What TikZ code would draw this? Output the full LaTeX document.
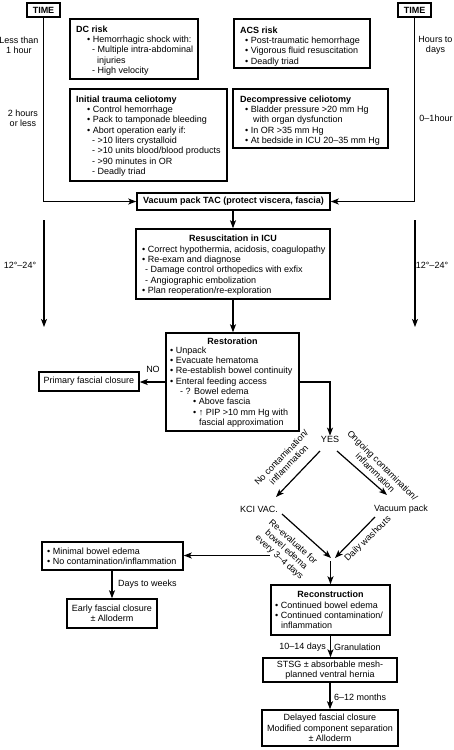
\documentclass[tikz,border=0pt]{standalone}
\usepackage{fontspec}
\setmainfont{Liberation Sans}
\usetikzlibrary{arrows.meta,calc,fit}
\begin{document}
\begin{tikzpicture}[x=1pt,y=-1pt,
  every node/.style={font=\fontsize{9}{10.3}\selectfont, inner sep=0pt},
  box/.style={draw, line width=1.5pt, rectangle, inner sep=0pt},
  txt/.style={anchor=north west, align=left},
  lbl/.style={align=center},
  arr/.style={line width=1.2pt, -{Stealth[length=8pt,width=6pt,inset=2pt]}},
  ln/.style={line width=1.2pt}]
\useasboundingbox (0,0) rectangle (453,750);

% time boxes
\node[box, minimum width=33pt, minimum height=14pt] (timeL) at (43.5,10) {\textbf{TIME}};
\node[box, minimum width=33pt, minimum height=14pt] (timeR) at (414.5,10) {\textbf{TIME}};

\node[lbl] (tl1) at (19,45) {Less than\\1 hour};
\node[lbl] (tl2) at (23,118) {2 hours\\or less};
\node[lbl] (tl3) at (20,265) {12°–24°};
\node[lbl] (tr1) at (435.5,45) {Hours to\\days};
\node[lbl] (tr2) at (436,118) {0–1hour};
\node[lbl] (tr3) at (432,265) {12°–24°};

% DC risk
\node[box, fit={(70,19) (198,79)}] (dc) {};
\node[txt] (dct) at (76,25.5) {\textbf{DC risk}\\
\hspace*{11pt}• Hemorrhagic shock with:\\
\hspace*{16pt}- Multiple intra-abdominal\\
\hspace*{21pt}injuries\\
\hspace*{16pt}- High velocity};

% Initial trauma
\node[box, fit={(70,89) (227,181)}] (itc) {};
\node[txt] (itct) at (76,95.5) {\textbf{Initial trauma celiotomy}\\
\hspace*{11pt}• Control hemorrhage\\
\hspace*{11pt}• Pack to tamponade bleeding\\
\hspace*{11pt}• Abort operation early if:\\
\hspace*{16pt}- >10 liters crystalloid\\
\hspace*{16pt}- >10 units blood/blood products\\
\hspace*{16pt}- >90 minutes in OR\\
\hspace*{16pt}- Deadly triad};

% ACS risk
\node[box, fit={(234,19) (370,68)}] (acs) {};
\node[txt] (acst) at (240,26.5) {\textbf{ACS risk}\\
\hspace*{5pt}• Post-traumatic hemorrhage\\
\hspace*{5pt}• Vigorous fluid resuscitation\\
\hspace*{5pt}• Deadly triad};

% Decompressive
\node[box, fit={(233,89) (388,148)}] (dcel) {};
\node[txt] (dcelt) at (240,95.5) {\textbf{Decompressive celiotomy}\\
\hspace*{5pt}• Bladder pressure >20 mm Hg\\
\hspace*{13pt}with organ dysfunction\\
\hspace*{5pt}• In OR >35 mm Hg\\
\hspace*{5pt}• At bedside in ICU 20–35 mm Hg};

% Vacuum pack TAC
\node[box, minimum width=193pt, minimum height=17pt] (vac) at (233.5,201.5) {\textbf{Vacuum pack TAC (protect viscera, fascia)}};

% Resuscitation
\node[box, fit={(136,229) (330,299)}] (res) {};
\node (rest0) at (233,238) {\textbf{Resuscitation in ICU}};
\node[txt] (rest1) at (142,245.5) {• Correct hypothermia, acidosis, coagulopathy\\
• Re-exam and diagnose\\
\hspace*{3pt}- Damage control orthopedics with exfix\\
\hspace*{3pt}- Angiographic embolization\\
• Plan reoperation/re-exploration};

% Restoration
\node[box, fit={(166,333) (299,431)}] (rest) {};
\node (restt0) at (232.5,341) {\textbf{Restoration}};
\node[txt] (restt1) at (170,346.5) {• Unpack\\
• Evacuate hematoma\\
• Re-establish bowel continuity\\
• Enteral feeding access\\
\hspace*{10pt}- ? Bowel edema\\
\hspace*{23pt}• Above fascia\\
\hspace*{23pt}• ↑ PIP >10 mm Hg with\\
\hspace*{29pt}fascial approximation};

% Primary fascial closure
\node[box, minimum width=100pt, minimum height=19pt] (prim) at (89,381.5) {Primary fascial closure};
\node (no) at (153,369) {NO};

% diamond
\node (yes) at (330,439) {YES};
\node (kci) at (259,509) {KCI VAC.};
\node (vp) at (401,509) {Vacuum pack};
\node[lbl, rotate=46] (lab1) at (285,461) {No contamination/\\inflammation};
\node[lbl, rotate=-45] (lab2) at (379,469) {Ongoing contamination/\\inflammation};
\node[lbl, rotate=-42] (lab3) at (286,550) {Re-evaluate for\\bowel edema\\every 3–4 days};
\node[lbl, rotate=44] (lab4) at (368,539) {Daily washouts};

% Minimal bowel edema
\node[box, fit={(42,542) (183,570)}] (mini) {};
\node[txt] (minit) at (47,547.5) {• Minimal bowel edema\\
• No contamination/inflammation};
\node[anchor=west] (dtw) at (118,584) {Days to weeks};
\node[box, minimum width=90pt, minimum height=29pt, align=center] (early) at (112,613.5) {Early fascial closure\\± Alloderm};

% Reconstruction
\node[box, fit={(271,585) (390,635)}] (recon) {};
\node (recont0) at (330.5,594) {\textbf{Reconstruction}};
\node[txt] (recont1) at (275,601.5) {• Continued bowel edema\\
• Continued contamination/\\
\hspace*{6pt}inflammation};
\node[anchor=east] (d1014) at (326,647) {10–14 days};
\node[anchor=west] (gran) at (334,647) {Granulation};
\node[box, minimum width=134pt, minimum height=24pt, align=center] (stsg) at (330,670) {STSG ± absorbable mesh-\\planned ventral hernia};
\node[anchor=west] (m612) at (334,697) {6–12 months};
\node[box, minimum width=136pt, minimum height=36pt, align=center] (del) at (330,728) {Delayed fascial closure\\Modified component separation\\± Alloderm};

% coordinates
\coordinate (l1) at (44,220);
\coordinate (l2) at (44,327);
\coordinate (r1) at (415,220);
\coordinate (r2) at (415,327);
\coordinate (yesL) at (320,451);
\coordinate (kciT) at (276,497);
\coordinate (yesR) at (337,451);
\coordinate (vpT) at (387,495);
\coordinate (kciB) at (282,514);
\coordinate (vpB) at (375,517);
\coordinate (joinL) at (331,558);
\coordinate (joinR) at (335,558);
\coordinate (joinB) at (330.5,561);
\coordinate (reev) at (270,555.5);

% connectors
\draw[arr] (timeL.south) |- (vac.west);
\draw[arr] (timeR.south) |- (vac.east);
\draw[arr] (l1) -- (l2);
\draw[arr] (r1) -- (r2);
\draw[arr] (res.north |- vac.south) -- (res.north);
\draw[arr] (res.south) -- (res.south |- rest.north);
\draw[arr] (rest.west) -- (rest.west -| prim.east);
\draw[arr] (rest.east) -| (yes.north);
\draw[arr] (yesL) -- (kciT);
\draw[arr] (yesR) -- (vpT);
\draw[arr] (kciB) -- (joinL);
\draw[arr] (vpB) -- (joinR);
\draw[arr] (joinB) -- (recon.north);
\draw[arr] (reev) -- (reev -| mini.east);
\draw[arr] (early.north |- mini.south) -- (early.north);
\draw[arr] (recon.south) -- (recon.south |- stsg.north);
\draw[arr] (stsg.south) -- (del.north);
\end{tikzpicture}
\end{document}
